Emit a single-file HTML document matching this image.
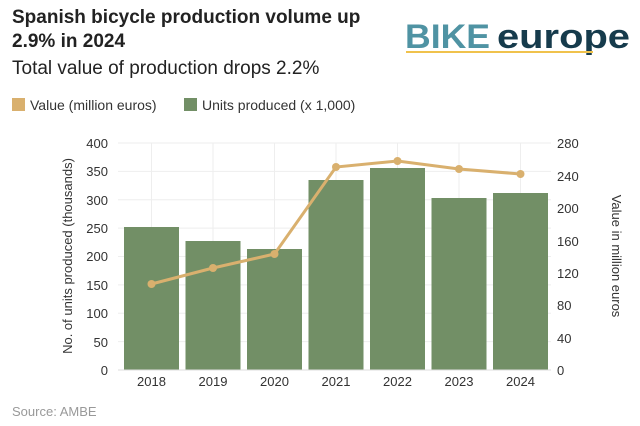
<!DOCTYPE html>
<html><head><style>
body{margin:0;width:640px;height:426px;background:#fff;font-family:"Liberation Sans",sans-serif;overflow:hidden;position:relative}
.t{position:absolute;left:12px;top:6px;font-size:19px;font-weight:bold;color:#222;line-height:24px}
.s{position:absolute;left:12px;top:58px;font-size:19px;color:#222}
</style></head><body>
<div class="t">Spanish bicycle production volume up<br>2.9% in 2024</div>
<div class="s">Total value of production drops 2.2%</div>
<svg width="640" height="426" style="position:absolute;left:0;top:0" font-family="Liberation Sans, sans-serif">
<text x="405" y="48" font-size="34" font-weight="bold" fill="#4f93a3" textLength="85" lengthAdjust="spacingAndGlyphs">BIKE</text>
<text x="497" y="48" font-size="34" font-weight="bold" fill="#163b4c" textLength="133" lengthAdjust="spacingAndGlyphs">europe</text>
<rect x="406" y="51" width="187" height="2" fill="#f0c24c"/>
<rect x="12" y="98" width="13" height="13" fill="#d9b06e"/>
<text x="30" y="110" font-size="14" fill="#333">Value (million euros)</text>
<rect x="184" y="98" width="13" height="13" fill="#728f66"/>
<text x="202" y="110" font-size="14" fill="#333">Units produced (x 1,000)</text>
<g stroke="#eee" stroke-width="1">
<line x1="118" y1="143" x2="551" y2="143"/><line x1="118" y1="171.4" x2="551" y2="171.4"/><line x1="118" y1="199.8" x2="551" y2="199.8"/><line x1="118" y1="228.1" x2="551" y2="228.1"/><line x1="118" y1="256.5" x2="551" y2="256.5"/><line x1="118" y1="284.9" x2="551" y2="284.9"/><line x1="118" y1="313.3" x2="551" y2="313.3"/><line x1="118" y1="341.6" x2="551" y2="341.6"/>
<line x1="151.5" y1="143" x2="151.5" y2="370"/><line x1="213" y1="143" x2="213" y2="370"/><line x1="274.5" y1="143" x2="274.5" y2="370"/><line x1="336" y1="143" x2="336" y2="370"/><line x1="397.5" y1="143" x2="397.5" y2="370"/><line x1="459" y1="143" x2="459" y2="370"/><line x1="520.5" y1="143" x2="520.5" y2="370"/>
</g>
<g fill="#728f66">
<rect x="124" y="227" width="55" height="143"/><rect x="185.5" y="241" width="55" height="129"/><rect x="247" y="249" width="55" height="121"/><rect x="308.5" y="180" width="55" height="190"/><rect x="370" y="168" width="55" height="202"/><rect x="431.5" y="198" width="55" height="172"/><rect x="493" y="193" width="55" height="177"/>
</g>
<line x1="118" y1="370" x2="551" y2="370" stroke="#ddd"/>
<polyline points="151.5,284 213,268 274.5,254 336,167 397.5,161 459,169 520.5,174" fill="none" stroke="#d9b06e" stroke-width="3"/>
<g fill="#d9b06e"><circle cx="151.5" cy="284" r="4"/><circle cx="213" cy="268" r="4"/><circle cx="274.5" cy="254" r="4"/><circle cx="336" cy="167" r="4"/><circle cx="397.5" cy="161" r="4"/><circle cx="459" cy="169" r="4"/><circle cx="520.5" cy="174" r="4"/></g>
<g font-size="13" fill="#333" text-anchor="end">
<text x="108" y="148">400</text><text x="108" y="176">350</text><text x="108" y="205">300</text><text x="108" y="233">250</text><text x="108" y="261">200</text><text x="108" y="290">150</text><text x="108" y="318">100</text><text x="108" y="347">50</text><text x="108" y="375">0</text>
</g>
<g font-size="13" fill="#333" text-anchor="start">
<text x="557" y="148">280</text><text x="557" y="181">240</text><text x="557" y="213">200</text><text x="557" y="246">160</text><text x="557" y="278">120</text><text x="557" y="310">80</text><text x="557" y="343">40</text><text x="557" y="375">0</text>
</g>
<g font-size="13" fill="#333" text-anchor="middle">
<text x="151.5" y="386">2018</text><text x="213" y="386">2019</text><text x="274.5" y="386">2020</text><text x="336" y="386">2021</text><text x="397.5" y="386">2022</text><text x="459" y="386">2023</text><text x="520.5" y="386">2024</text>
</g>
<text transform="translate(72,256) rotate(-90)" font-size="13" fill="#333" text-anchor="middle">No. of units produced (thousands)</text>
<text transform="translate(612,256) rotate(90)" font-size="13" fill="#333" text-anchor="middle">Value in million euros</text>
<text x="12" y="416" font-size="13" fill="#999">Source: AMBE</text>
</svg>
</body></html>
